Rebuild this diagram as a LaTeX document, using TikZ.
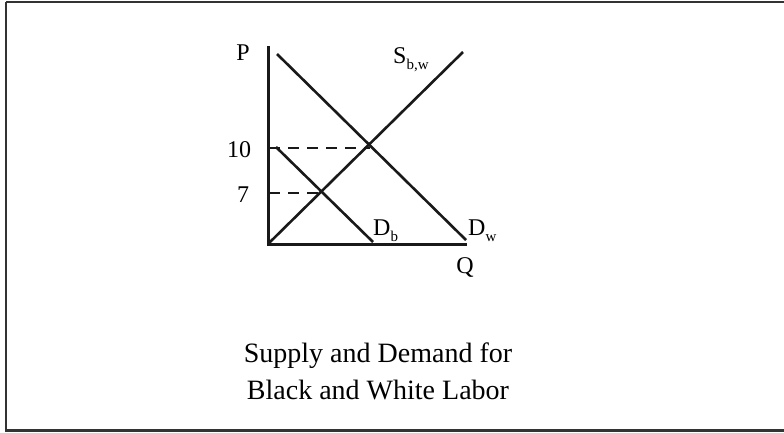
\documentclass[tikz,border=0pt]{standalone}
\usepackage{fontspec}
\setmainfont{Liberation Serif}
\begin{document}
\begin{tikzpicture}[x=1pt,y=-1pt,
  curve/.style={line width=2.6pt,black!90},
  axisline/.style={line width=3pt,black!90},
  guide/.style={line width=2.6pt,black!90,dash pattern=on 11pt off 8pt},
  lbl/.style={inner sep=0pt,font=\fontsize{24}{26}\selectfont},
  frame/.style={line width=2.2pt,black!80}]
\useasboundingbox (0,0) rectangle (784,432);
\draw[frame] (6,2) -- (790,2);
\draw[frame] (6,2) -- (6,430.5) -- (790,430.5);
% axes
\coordinate (O) at (268,244);
\coordinate (Ptop) at (268,46);
\coordinate (Qend) at (467,244);
\draw[axisline] (Ptop) -- (O) -- (Qend);
% curves
\coordinate (Sa) at (268,244);
\coordinate (Sb) at (463,52);
\coordinate (Dwa) at (277,54);
\coordinate (Dwb) at (466,240);
\coordinate (Dba) at (276,147);
\coordinate (Dbb) at (373,242);
\draw[curve] (Sa) -- (Sb);
\draw[curve] (Dwa) -- (Dwb);
\draw[curve] (Dba) -- (Dbb);
% dashed guides
\coordinate (y10) at (269,148);
\coordinate (e10) at (370,148);
\coordinate (y7) at (269,193);
\coordinate (e7) at (322,193);
\draw[guide] (y10) -- (e10);
\draw[guide] (y7) -- (e7);
% labels
\node[lbl] (P) at (243,53) {P};
\node[lbl] (ten) at (239,150) {10};
\node[lbl] (seven) at (243,195) {7};
\node[lbl] (Q) at (465,267) {Q};
\node[lbl,anchor=base west] (Db) at (373,235) {D\raisebox{-6pt}{\fontsize{15}{15}\selectfont b}};
\node[lbl,anchor=base west] (Dw) at (468,235) {D\raisebox{-6pt}{\fontsize{15}{15}\selectfont w}};
\node[lbl,anchor=base west] (S) at (393,63) {S\raisebox{-6pt}{\fontsize{15}{15}\selectfont b,w}};
\node[inner sep=0pt,font=\fontsize{28}{37}\selectfont,align=center] (title) at (378,371) {Supply and Demand for\\Black and White Labor};
\end{tikzpicture}
\end{document}
